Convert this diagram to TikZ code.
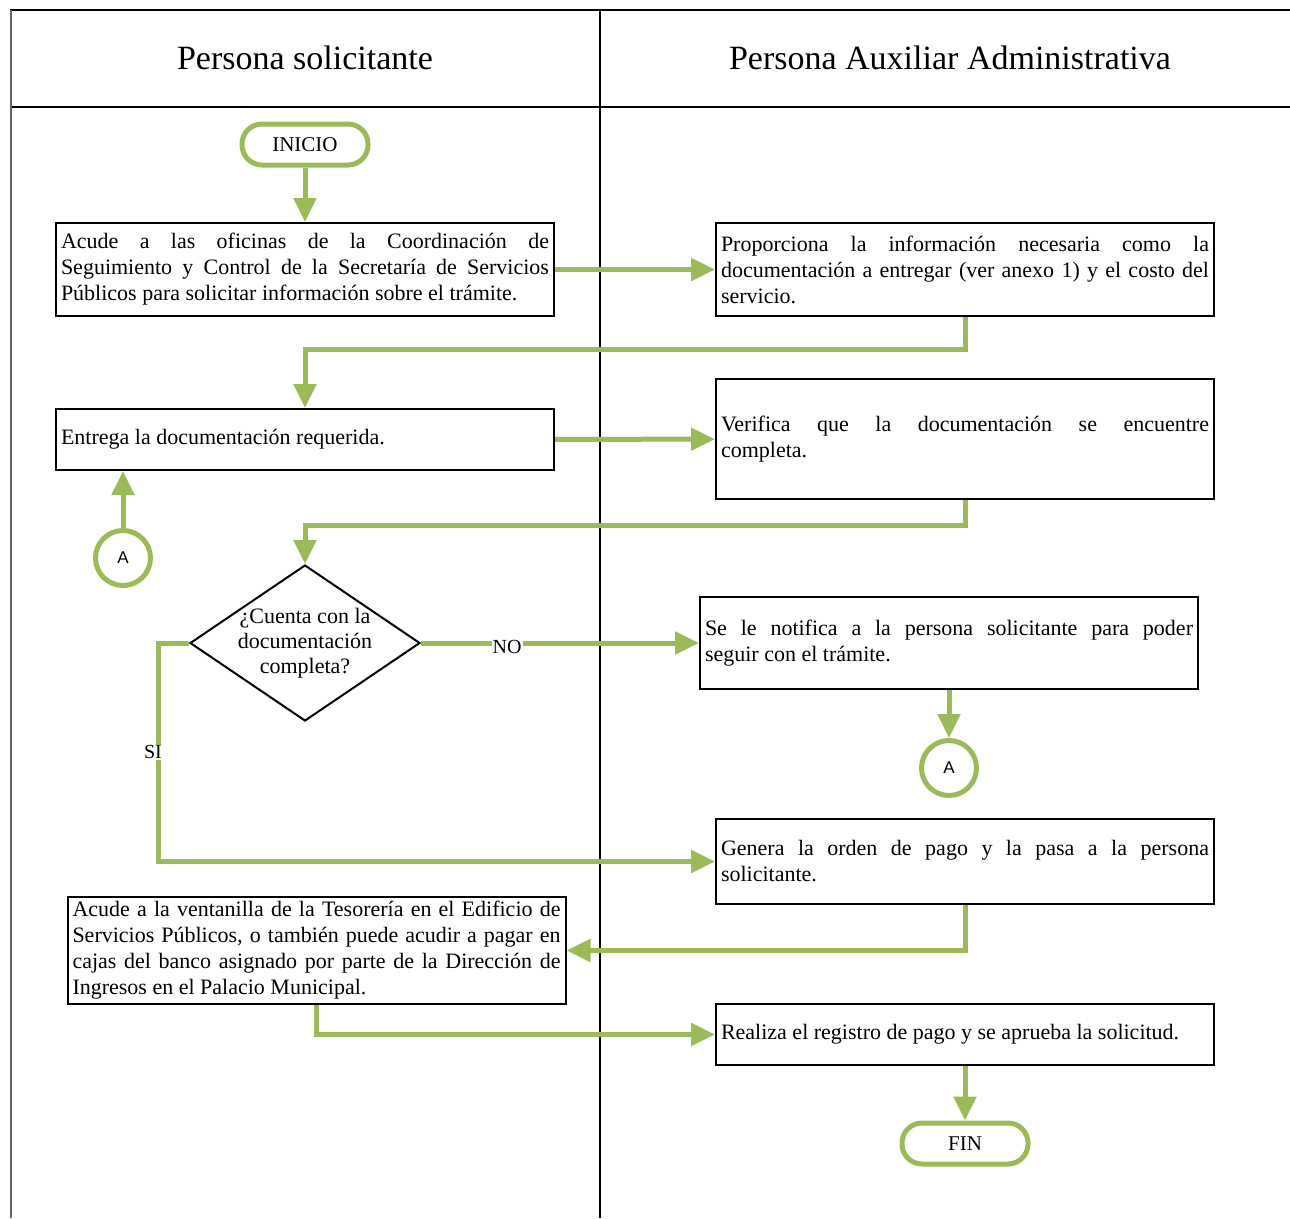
\documentclass[tikz,border=0pt]{standalone}
\usepackage{fontspec}
\setmainfont{Liberation Serif}
\setsansfont{Liberation Sans}
\usetikzlibrary{arrows.meta,shapes.geometric}
\definecolor{verdeOlivo}{RGB}{155,187,89}

\begin{document}
\begin{tikzpicture}
[x=1pt,y=-1pt,
  laneDecorate/.style={line width=2pt},
  headDecorate/.style={font=\fontsize{34}{40}\selectfont},
  boxDecorate/.style={draw,line width=2pt,rectangle,inner xsep=5pt,inner ysep=3pt,
    text width=488pt,minimum height=#1,align=justify,font=\fontsize{22}{26}\selectfont},
  boxDecorate/.default=60pt,
  termDecorate/.style={draw=verdeOlivo,line width=5pt,rounded corners=20pt,
    minimum width=126pt,minimum height=41pt,font=\fontsize{21}{24}\selectfont},
  connDecorate/.style={circle,draw=verdeOlivo,line width=5pt,minimum size=55pt,
    inner sep=0pt,font=\sffamily\fontsize{17}{18}\selectfont},
  decisionDecorate/.style={diamond,draw,line width=2pt,minimum width=230pt,
    minimum height=156pt,inner sep=0pt},
  lineDecorate/.style={draw=verdeOlivo,line width=5pt,-{Triangle[length=24pt,width=22pt]}},
  labelDecorate/.style={fill=white,inner sep=1pt,font=\fontsize{20}{24}\selectfont}]
\useasboundingbox (0,0) rectangle (1290,1218);

%% swim lanes
\draw[laneDecorate] (10,10) -- (1290,10);
\draw[laneDecorate] (10,107) -- (1290,107);
\draw[laneDecorate] (600,10) -- (600,1218);
\draw[line width=1.5pt,black!60] (11,10) -- (11,1218);
\node (hsol) at (305,58) [headDecorate] {Persona solicitante};
\node (haux) at (950,58) [headDecorate] {Persona Auxiliar Administrativa};

%% nodes
\node (inicio) at (305,144.5) [termDecorate] {INICIO};
\node (acude) at (305,269.5) [boxDecorate=93pt] {Acude a las oficinas de la Coordinación de\linebreak
  Seguimiento y Control de la Secretaría de Servicios\linebreak
  Públicos para solicitar información sobre el trámite.};
\node (proporciona) at (965,269.5) [boxDecorate=93pt] {Proporciona la información necesaria como la\linebreak
  documentación a entregar (ver anexo 1) y el costo del\linebreak servicio.};
\node (entrega) at (305,439.5) [boxDecorate=61pt] {Entrega la documentación requerida.};
\node (verifica) at (965,439) [boxDecorate=120pt] {Verifica que la documentación se encuentre\linebreak completa.};
\node (conAuno) at (123,558) [connDecorate] {A};
\node (cuenta) at (305,643) [decisionDecorate,
  label={[align=center,font=\fontsize{22}{25}\selectfont]center:¿Cuenta con la\\documentación\\completa?}] {};
\node (notifica) at (949,643) [boxDecorate=92pt] {Se le notifica a la persona solicitante para poder\linebreak
  seguir con el trámite.};
\node (conAdos) at (949,768) [connDecorate] {A};
\node (genera) at (965,861.5) [boxDecorate=85pt] {Genera la orden de pago y la pasa a la persona\linebreak solicitante.};
\node (ventanilla) at (316.5,950.5) [boxDecorate=107pt] {Acude a la ventanilla de la Tesorería en el Edificio de\linebreak
  Servicios Públicos, o también puede acudir a pagar en\linebreak
  cajas del banco asignado por parte de la Dirección de\linebreak
  Ingresos en el Palacio Municipal.};
\node (registra) at (965,1034.5) [boxDecorate=61pt] {Realiza el registro de pago y se aprueba la solicitud.};
\node (fin) at (965,1143.5) [termDecorate] {FIN};

%% straight arrows
\path
\foreach \startnode/\endnode in {inicio/acude, acude/proporciona, entrega/verifica,
  notifica/conAdos, registra/fin}
{
  (\startnode) edge[lineDecorate] (\endnode)
};

%% bent arrows
\draw[lineDecorate] (proporciona.south) -- ++(0,32) -| (entrega.north);
\draw[lineDecorate] (verifica.south) -- ++(0,25) -| (cuenta.north);
\draw[lineDecorate] (conAuno.north) -- (conAuno |- entrega.south);
\draw[lineDecorate] (cuenta.east) -- node[labelDecorate,pos=0.31,yshift=-4pt] {NO} (notifica.west);
\draw[lineDecorate] (cuenta.west) -- ++(-31,0) |- node[labelDecorate,pos=0.25,xshift=-5pt] {SI} (genera.west);
\draw[lineDecorate] (genera.south) |- (ventanilla.east);
\draw[lineDecorate] (ventanilla.south) |- (registra.west);
\end{tikzpicture}
\end{document}
